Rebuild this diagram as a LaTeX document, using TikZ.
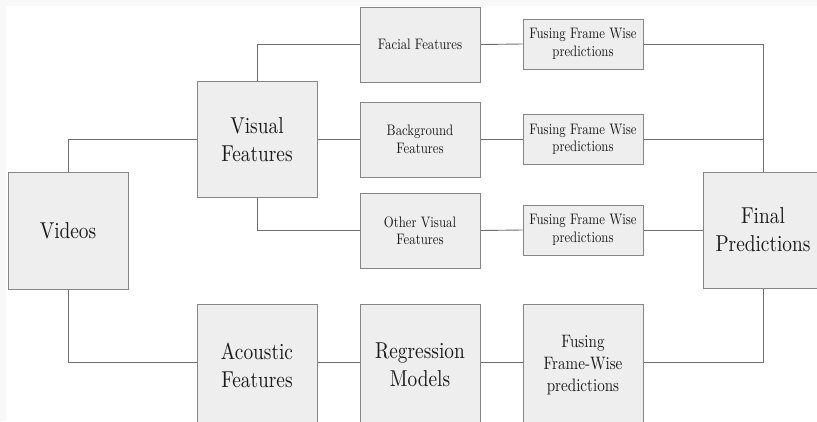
\documentclass[tikz,border=0pt]{standalone}
\usepackage{fontspec}
\setmainfont{lmroman10-regular.otf}[FakeStretch=0.84]
\pgfdeclarelayer{back}
\pgfdeclarelayer{edges}
\pgfsetlayers{back,edges,main}
\definecolor{boxfill}{HTML}{EEEEEE}
\definecolor{boxline}{HTML}{858585}
\definecolor{wireline}{HTML}{6E6E6E}
\definecolor{outerbg}{HTML}{F8F8F8}
\tikzset{
  box/.style={draw=boxline, fill=boxfill, line width=0.9pt, minimum width=120pt, inner sep=0pt, align=center, text=black!90},
  bigbox/.style={box, minimum height=116pt, font=\fontsize{23}{28}\selectfont},
  midbox/.style={box, minimum height=75pt, font=\fontsize{15.2}{17.5}\selectfont},
  smallbox/.style={box, minimum height=50pt, font=\fontsize{15.2}{17.5}\selectfont},
  wire/.style={draw=wireline, line width=0.9pt}
}
\begin{document}
\begin{tikzpicture}[x=1pt,y=-1pt]
\useasboundingbox (0,0) rectangle (817,421);
\begin{pgfonlayer}{back}
\fill[outerbg] (0,0) rectangle (817,421);
\fill[white] (6,6) rectangle (817,421);
\end{pgfonlayer}

\node[bigbox, minimum height=117pt] (vid) at (68,230.5) {Videos};
\node[bigbox] (vis) at (257,139.5) {Visual\\Features};
\node[midbox] (fac) at (420,44.5) {Facial Features};
\node[midbox] (bgf) at (420,139.5) {Background\\Features};
\node[midbox] (oth) at (420,230.5) {Other Visual\\Features};
\node[smallbox] (f1) at (583,44) {Fusing Frame Wise\\predictions};
\node[smallbox] (f2) at (583,139.5) {Fusing Frame Wise\\predictions};
\node[smallbox] (f3) at (583,230) {Fusing Frame Wise\\predictions};
\node[bigbox] (fin) at (763,230) {Final\\Predictions};
\node[bigbox, minimum height=122pt] (aco) at (257,365) {Acoustic\\Features};
\node[bigbox, minimum height=122pt] (reg) at (420,365) {Regression\\Models};
\node[bigbox, minimum height=122pt, font=\fontsize{18}{22}\selectfont] (f4) at (583,365) {Fusing\\Frame-Wise\\predictions};

\begin{pgfonlayer}{edges}
\draw[wire] (vid.north) |- (vis.west);
\draw[wire] (vid.south) |- ([yshift=2.5pt]aco.west);
\draw[wire] (vis.north) |- (fac.west);
\draw[wire] (vis.east) -- (bgf.west);
\draw[wire] (vis.south) |- (oth.west);
\draw[wire] (fac.east) -- (f1.west);
\draw[wire] (bgf.east) -- (f2.west);
\draw[wire] (oth.east) -- (f3.west);
\draw[wire] (f1.east) -| (fin.north);
\draw[wire] (f2.east) -| (fin.north);
\draw[wire] (f3.east) -- (fin.west);
\draw[wire] ([yshift=2.5pt]aco.east) -- ([yshift=2.5pt]reg.west);
\draw[wire] ([yshift=2.5pt]reg.east) -- ([yshift=2.5pt]f4.west);
\draw[wire] ([yshift=2.5pt]f4.east) -| (fin.south);
\end{pgfonlayer}
\end{tikzpicture}
\end{document}
